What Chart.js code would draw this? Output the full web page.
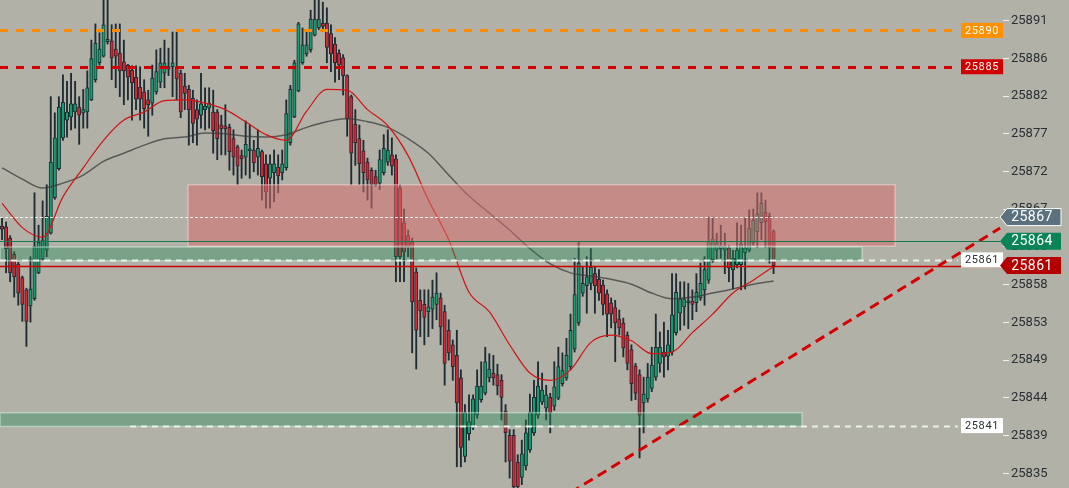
<!DOCTYPE html>
<html>
<head>
<meta charset="utf-8">
<script src="https://cdn.jsdelivr.net/npm/chart.js@4"></script>
<style>
  html, body { margin: 0; padding: 0; background: #b1b1a7; }
  #wrap { width: 1069px; height: 488px; }
</style>
</head>
<body>
<div id="wrap"><canvas id="chart" width="1069" height="488"></canvas></div>
<script>
// candles, left to right
const opens = [25865.6,25865.5,25864.1,25862.1,25860.9,25859.2,25857.7,25855.7,25856.6,25859.8,
  25861.5,25862.6,25864.7,25869.1,25872.7,25876.5,25878.7,25879.1,25879.7,25880.3,
  25879.6,25879.7,25881.2,25883.7,25885.8,25886.6,25888.4,25888.5,25887.5,25887.0,
  25885.9,25885.5,25884.9,25884.0,25882.8,25882.2,25881.2,25880.8,25882.2,25883.4,
  25884.5,25885.3,25885.3,25885.3,25884.5,25882.9,25882.5,25881.4,25880.0,25879.3,
  25880.0,25880.2,25879.7,25879.7,25878.1,25878.0,25877.8,25876.4,25875.4,25874.3,
  25874.1,25874.9,25875.0,25874.1,25874.8,25873.3,25871.5,25872.2,25872.9,25872.2,
  25872.8,25875.9,25879.1,25882.3,25885.8,25886.9,25887.4,25889.2,25890.1,25890.7,
  25890.7,25889.4,25888.1,25887.0,25886.4,25884.2,25881.6,25878.2,25876.4,25874.9,
  25873.5,25872.5,25871.7,25870.9,25872.2,25873.5,25874.4,25873.9,25870.3,25866.0,
  25864.4,25863.6,25859.9,25856.4,25855.9,25855.0,25855.3,25855.9,25856.7,25855.0,
  25852.7,25850.9,25849.6,25846.8,25837.1,25839.9,25840.6,25842.2,25844.1,25844.9,
  25846.8,25847.4,25847.2,25846.5,25842.7,25839.7,25839.7,25836.4,25834.5,25835.9,
  25837.9,25840.0,25842.2,25843.8,25843.1,25844.4,25843.3,25844.3,25846.1,25846.8,
  25848.2,25850.4,25853.6,25857.3,25858.2,25858.5,25859.7,25859.0,25858.3,25857.2,
  25856.1,25855.5,25854.1,25853.6,25852.1,25850.3,25848.3,25847.2,25843.7,25844.2,
  25845.5,25846.9,25848.6,25850.0,25849.5,25850.0,25852.4,25854.8,25855.6,25856.1,
  25856.3,25856.1,25856.7,25857.7,25858.9,25861.4,25862.6,25862.8,25862.6,25862.9,
  25860.2,25860.8,25860.8,25862.3,25862.6,25863.5,25864.9,25866.0,25867.3,25866.8,
  25864.9];
const highs = [25866.6,25866.1,25864.4,25862.4,25861.1,25859.4,25857.9,25861.8,25869.7,25865.7,
  25868.7,25870.7,25881.6,25879.6,25881.6,25884.3,25883.5,25884.5,25883.5,25881.6,
  25882.5,25884.8,25888.6,25890.6,25889.5,25894.5,25893.9,25890.5,25890.6,25890.6,
  25888.6,25885.6,25885.4,25885.4,25885.3,25883.7,25882.4,25885.5,25887.4,25887.6,
  25888.6,25887.6,25889.6,25889.6,25884.9,25884.5,25883.0,25882.4,25881.2,25884.5,
  25882.7,25882.7,25882.4,25880.0,25879.3,25880.6,25878.2,25877.5,25875.6,25875.0,
  25878.6,25878.1,25876.2,25877.5,25875.0,25874.4,25874.4,25875.0,25874.4,25875.0,
  25881.2,25883.0,25886.1,25890.8,25890.1,25889.9,25892.3,25894.2,25894.2,25893.3,
  25892.6,25890.5,25888.9,25887.4,25886.8,25884.3,25881.8,25880.0,25878.1,25876.2,
  25874.0,25872.8,25872.5,25875.0,25876.9,25877.5,25876.5,25874.4,25870.7,25867.7,
  25865.1,25864.1,25860.4,25857.7,25857.7,25857.7,25858.9,25859.8,25857.3,25855.8,
  25854.0,25851.5,25852.7,25847.8,25843.5,25844.7,25844.7,25847.8,25848.8,25850.6,
  25849.8,25849.6,25848.5,25847.2,25843.5,25840.4,25840.4,25837.3,25839.1,25841.6,
  25844.8,25846.5,25848.8,25847.4,25845.9,25844.9,25848.8,25850.6,25849.9,25851.7,
  25854.7,25861.6,25863.6,25860.5,25861.8,25862.8,25860.5,25860.2,25858.9,25857.7,
  25856.7,25856.4,25855.2,25854.2,25852.5,25850.9,25848.6,25847.8,25846.9,25848.6,
  25850.6,25854.7,25852.5,25853.7,25852.7,25859.7,25859.7,25858.7,25858.7,25858.5,
  25857.7,25859.7,25861.0,25861.8,25866.7,25866.7,25864.7,25865.7,25864.7,25863.2,
  25862.6,25866.0,25865.7,25866.6,25867.6,25867.7,25869.7,25869.7,25868.8,25867.2,
  25865.1];
const lows = [25863.9,25859.8,25858.7,25856.8,25855.8,25853.8,25850.7,25853.7,25856.4,25859.7,
  25861.4,25861.8,25864.6,25868.9,25872.5,25876.2,25876.6,25877.5,25877.7,25875.7,
  25877.7,25877.7,25881.1,25883.4,25885.5,25886.5,25888.1,25883.7,25882.7,25881.6,
  25880.6,25881.2,25878.7,25880.0,25878.7,25877.7,25876.7,25879.3,25881.9,25882.7,
  25882.7,25884.2,25881.6,25881.2,25879.0,25880.0,25875.6,25875.9,25875.6,25877.7,
  25877.5,25877.7,25874.6,25873.8,25874.4,25874.4,25872.5,25871.9,25870.7,25871.5,
  25871.9,25871.5,25872.3,25871.9,25868.8,25867.8,25867.8,25868.6,25869.7,25871.3,
  25872.5,25875.6,25879.0,25882.2,25885.6,25886.6,25887.1,25889.1,25889.9,25889.9,
  25885.8,25884.7,25883.4,25883.7,25881.8,25876.7,25870.7,25873.1,25870.7,25869.8,
  25868.8,25867.8,25870.5,25870.1,25871.9,25873.1,25871.9,25858.7,25858.7,25858.7,
  25861.8,25849.9,25847.9,25851.9,25850.9,25851.9,25852.9,25854.0,25850.9,25845.9,
  25849.0,25846.5,25835.8,25835.8,25836.4,25839.1,25840.4,25841.8,25843.8,25844.7,
  25846.3,25845.9,25844.7,25841.6,25836.4,25834.4,25832.3,25832.3,25833.6,25835.4,
  25837.6,25839.7,25841.8,25843.5,25841.6,25840.0,25842.8,25844.1,25845.8,25846.5,
  25847.8,25850.0,25853.3,25856.9,25854.8,25857.7,25854.8,25856.4,25854.6,25851.9,
  25853.0,25848.8,25852.1,25849.4,25847.8,25844.0,25844.1,25836.9,25840.0,25843.8,
  25845.1,25846.5,25847.5,25846.9,25847.8,25849.6,25852.1,25852.7,25853.3,25852.9,
  25854.0,25855.0,25856.4,25855.8,25858.5,25861.1,25861.4,25861.6,25859.7,25858.7,
  25857.8,25860.4,25857.7,25857.8,25862.4,25863.2,25862.9,25863.9,25862.9,25861.0,
  25859.7];
const closes = [25865.2,25862.8,25859.8,25859.3,25857.3,25855.9,25853.8,25857.8,25863.1,25863.6,
  25863.9,25866.8,25873.5,25876.5,25880.3,25880.9,25879.7,25880.7,25880.7,25879.3,
  25880.0,25882.7,25886.3,25888.2,25887.5,25890.5,25888.7,25886.4,25886.6,25884.8,
  25884.8,25884.0,25883.3,25881.3,25881.3,25880.1,25880.6,25883.9,25884.7,25885.8,
  25885.8,25885.0,25885.8,25883.8,25879.7,25882.0,25880.0,25878.3,25878.8,25880.7,
  25880.4,25880.8,25877.4,25876.4,25877.6,25877.6,25874.8,25874.1,25873.0,25873.9,
  25875.7,25875.1,25873.4,25875.2,25871.7,25869.8,25873.3,25873.3,25871.8,25873.3,
  25879.5,25882.5,25885.8,25890.6,25888.0,25888.0,25891.2,25891.2,25891.2,25890.3,
  25887.7,25886.9,25885.8,25885.5,25884.2,25878.8,25874.6,25875.9,25873.3,25872.2,
  25871.3,25870.7,25870.7,25873.8,25875.2,25875.0,25873.0,25861.8,25861.8,25862.4,
  25863.0,25856.2,25852.7,25855.1,25854.3,25855.6,25856.8,25857.3,25853.1,25848.6,
  25849.9,25848.2,25843.7,25838.2,25842.5,25841.4,25844.2,25845.8,25845.8,25848.8,
  25847.9,25846.8,25845.8,25844.4,25840.0,25836.5,25833.3,25833.3,25837.4,25840.0,
  25842.5,25844.4,25845.8,25845.3,25844.7,25842.5,25845.7,25848.2,25847.7,25849.6,
  25852.7,25857.1,25861.0,25858.5,25859.3,25860.5,25858.2,25857.3,25855.9,25854.7,
  25854.7,25853.6,25853.0,25850.5,25848.6,25846.1,25844.9,25842.2,25844.8,25846.9,
  25848.4,25850.6,25850.6,25849.4,25850.9,25854.6,25857.4,25856.6,25856.6,25856.3,
  25855.9,25857.4,25858.5,25860.2,25863.7,25864.0,25863.5,25863.1,25863.1,25860.4,
  25861.6,25862.6,25863.4,25862.9,25865.3,25866.3,25867.1,25868.4,25866.1,25862.9,
  25860.7];

// moving averages, read every 5 candles
const maIndex = [0,5,10,15,20,25,30,35,40,45,50,55,60,65,70,75,80,85,90,95,
  100,105,110,115,120,125,130,135,140,145,150,155,160,165,170,175,180,185,190];
const maFast = [25868.4,25865.4,25864.2,25869.2,25872.8,25876.2,25878.7,25879.7,25881.1,25881.2,
  25880.8,25880.0,25878.5,25876.9,25876.2,25879.8,25882.5,25882.4,25880.0,25878.0,
  25874.3,25868.8,25863.9,25857.4,25855.0,25850.9,25847.4,25846.5,25847.8,25851.2,
  25852.1,25851.4,25849.8,25850.0,25852.4,25854.7,25857.3,25858.9,25860.6];
const maSlow = [25872.8,25871.4,25870.3,25870.9,25871.9,25873.6,25874.6,25875.6,25876.4,25876.6,
  25877.1,25877.0,25876.7,25876.6,25876.9,25877.8,25878.5,25878.9,25878.5,25877.8,
  25876.4,25874.6,25871.9,25869.3,25867.2,25865.1,25862.8,25860.9,25859.8,25859.4,
  25859.0,25858.4,25857.3,25856.6,25856.8,25857.3,25857.8,25858.4,25858.8];

// trend line end points (candle slot, price)
const trendSlots = [140, 245.8];
const trendPrices = [25832.6, 25865.35];

// zones: from slot, to slot, top price, bottom price
const zoneFrom = [45.8, -0.5, -0.5];
const zoneTo = [219.9, 211.8, 197.0];
const zoneTop = [25870.7, 25863.0, 25842.5];
const zoneBottom = [25863.1, 25861.3, 25840.8];

// horizontal levels and their tags
const levelPrices = [25889.8, 25885.3, 25866.7, 25863.7, 25861.4, 25860.7, 25840.9];
const levelLabels = ['25890', '25885', '25867', '25864', '25861', '25861', '25841'];

// y axis
const yTickValues = [25891.0,25886.33,25881.67,25877.0,25872.33,25867.67,25863.0,
  25858.33,25853.67,25849.0,25844.33,25839.67,25835.0];
const yTickLabels = ['25891','25886','25882','25877','25872','25867','25863',
  '25858','25853','25849','25844','25839','25835'];

const slotCount = 247;
const BG = '#b1b1a7';
const UP = '#14a06e';
const DOWN = '#dc2330';
const EDGE = '#1e2b33';

const levelStyles = [
  { color: '#ff8c00', width: 3, dash: [8, 8], from: -0.5, tag: 'box', fill: '#ff9100', text: '#ffffff' },
  { color: '#d20000', width: 3, dash: [8, 8], from: -0.5, tag: 'box', fill: '#d00000', text: '#ffffff' },
  { color: 'rgba(255,255,255,0.85)', width: 1, dash: [3, 2], from: -0.5, tag: 'arrow', fill: '#5b727e', text: '#ffffff', stroke: '#ffffff' },
  { color: '#17784e', width: 1, dash: [], from: -0.5, tag: 'arrow', fill: '#0a8457', text: '#ffffff' },
  { color: 'rgba(235,245,240,0.9)', width: 2, dash: [6, 5], from: -0.5, tag: 'box', fill: '#ffffff', text: '#2a2f33' },
  { color: '#c80000', width: 1.5, dash: [], from: -0.5, tag: 'arrow', fill: '#b50000', text: '#ffffff' },
  { color: 'rgba(240,245,240,0.9)', width: 2, dash: [6, 5], from: 31.5, tag: 'box', fill: '#ffffff', text: '#2a2f33' },
];

const zoneStyles = [
  { fill: 'rgba(214,110,110,0.55)', stroke: 'rgba(255,235,235,0.4)' },
  { fill: 'rgba(40,140,90,0.4)', stroke: 'rgba(230,250,240,0.45)' },
  { fill: 'rgba(40,140,90,0.4)', stroke: 'rgba(230,250,240,0.45)' },
];

const bodyColors = closes.map((c, i) => (c >= opens[i] ? UP : DOWN));

const backgroundPlugin = {
  id: 'bg',
  beforeDraw(chart) {
    const c = chart.ctx;
    c.save();
    c.fillStyle = BG;
    c.fillRect(0, 0, chart.width, chart.height);
    c.restore();
  },
};

const zonePlugin = {
  id: 'zones',
  beforeDatasetDraw(chart, args) {
    if (args.index !== 0) return;
    const { ctx: c, scales: { x, y } } = chart;
    c.save();
    zoneFrom.forEach((f, i) => {
      const x1 = x.getPixelForValue(f);
      const x2 = x.getPixelForValue(zoneTo[i]);
      const y1 = y.getPixelForValue(zoneTop[i]);
      const y2 = y.getPixelForValue(zoneBottom[i]);
      c.fillStyle = zoneStyles[i].fill;
      c.fillRect(x1, y1, x2 - x1, y2 - y1);
      c.strokeStyle = zoneStyles[i].stroke;
      c.lineWidth = 1.5;
      c.strokeRect(x1, y1, x2 - x1, y2 - y1);
    });
    c.restore();
  },
};

const levelPlugin = {
  id: 'levels',
  afterDatasetsDraw(chart) {
    const { ctx: c, chartArea, scales: { x, y } } = chart;
    const right = chartArea.right;
    c.save();
    levelPrices.forEach((p, i) => {
      const s = levelStyles[i];
      const py = Math.round(y.getPixelForValue(p)) + 0.5;
      const x0 = x.getPixelForValue(s.from);
      const x1 = s.tag === 'box' ? right - 45 : right - 3;
      c.beginPath();
      c.setLineDash(s.dash);
      c.strokeStyle = s.color;
      c.lineWidth = s.width;
      c.moveTo(x0, py);
      c.lineTo(x1, py);
      c.stroke();
    });
    c.setLineDash([]);
    levelPrices.forEach((p, i) => {
      const s = levelStyles[i];
      const py = y.getPixelForValue(p);
      c.textAlign = 'center';
      c.textBaseline = 'middle';
      if (s.tag === 'box') {
        c.fillStyle = s.fill;
        c.fillRect(right - 42, py - 7.5, 42, 15);
        c.fillStyle = s.text;
        c.font = '11px Roboto';
        c.letterSpacing = '0.6px';
        c.fillText(levelLabels[i], right - 21, py + 0.5);
      } else {
        const tip = right - 3;
        const h = 17;
        c.beginPath();
        c.moveTo(tip, py);
        c.lineTo(tip + 7, py - h / 2);
        c.lineTo(right + 58, py - h / 2);
        c.lineTo(right + 58, py + h / 2);
        c.lineTo(tip + 7, py + h / 2);
        c.closePath();
        c.fillStyle = s.fill;
        c.fill();
        if (s.stroke) {
          c.strokeStyle = s.stroke;
          c.lineWidth = 1;
          c.stroke();
        }
        c.fillStyle = s.text;
        c.font = '14px Roboto';
        c.letterSpacing = '0.4px';
        c.fillText(levelLabels[i], right + 29, py + 0.5);
      }
    });
    c.restore();
  },
};

new Chart(document.getElementById('chart'), {
  type: 'bar',
  data: {
    datasets: [
      {
        type: 'line',
        label: 'trend',
        data: trendSlots.map((s, i) => ({ x: s, y: trendPrices[i] })),
        borderColor: '#d40000',
        borderWidth: 3,
        borderDash: [10, 6],
        pointRadius: 0,
        order: 0,
      },
      {
        type: 'line',
        label: 'ma fast',
        data: maIndex.map((s, i) => ({ x: s, y: maFast[i] })),
        borderColor: '#d21414',
        borderWidth: 1.2,
        pointRadius: 0,
        cubicInterpolationMode: 'monotone',
        order: 1,
      },
      {
        type: 'line',
        label: 'ma slow',
        data: maIndex.map((s, i) => ({ x: s, y: maSlow[i] })),
        borderColor: 'rgba(60,60,60,0.75)',
        borderWidth: 1.5,
        pointRadius: 0,
        cubicInterpolationMode: 'monotone',
        order: 1,
      },
      {
        label: 'body',
        data: opens.map((o, i) => ({ x: i, y: [o, closes[i]] })),
        backgroundColor: bodyColors,
        borderColor: EDGE,
        borderWidth: 1,
        borderSkipped: false,
        barThickness: 3.4,
        minBarLength: 2,
        grouped: false,
        order: 2,
      },
      {
        label: 'wick',
        data: lows.map((l, i) => ({ x: i, y: [l, highs[i]] })),
        backgroundColor: EDGE,
        barThickness: 1.2,
        grouped: false,
        order: 3,
      },
    ],
  },
  options: {
    responsive: false,
    animation: false,
    devicePixelRatio: 1,
    layout: { padding: 0 },
    plugins: { legend: { display: false }, tooltip: { enabled: false } },
    scales: {
      x: {
        type: 'linear',
        min: -0.5,
        max: slotCount - 0.5,
        offset: false,
        display: false,
      },
      y: {
        position: 'right',
        min: 25833.18,
        max: 25893.56,
        beginAtZero: false,
        afterBuildTicks: (s) => { s.ticks = yTickValues.map((v) => ({ value: v })); },
        afterFit: (s) => { s.width = 66; s.paddingTop = 0; s.paddingBottom = 0; },
        ticks: {
          callback: (v, i) => yTickLabels[i],
          color: '#2b3035',
          font: { family: 'Roboto', size: 13 },
          padding: 2,
        },
        grid: { drawOnChartArea: false, tickLength: 6, tickColor: '#f2f2f2', tickWidth: 1 },
        border: { display: false },
      },
    },
  },
  plugins: [backgroundPlugin, zonePlugin, levelPlugin],
});
</script>
</body>
</html>
